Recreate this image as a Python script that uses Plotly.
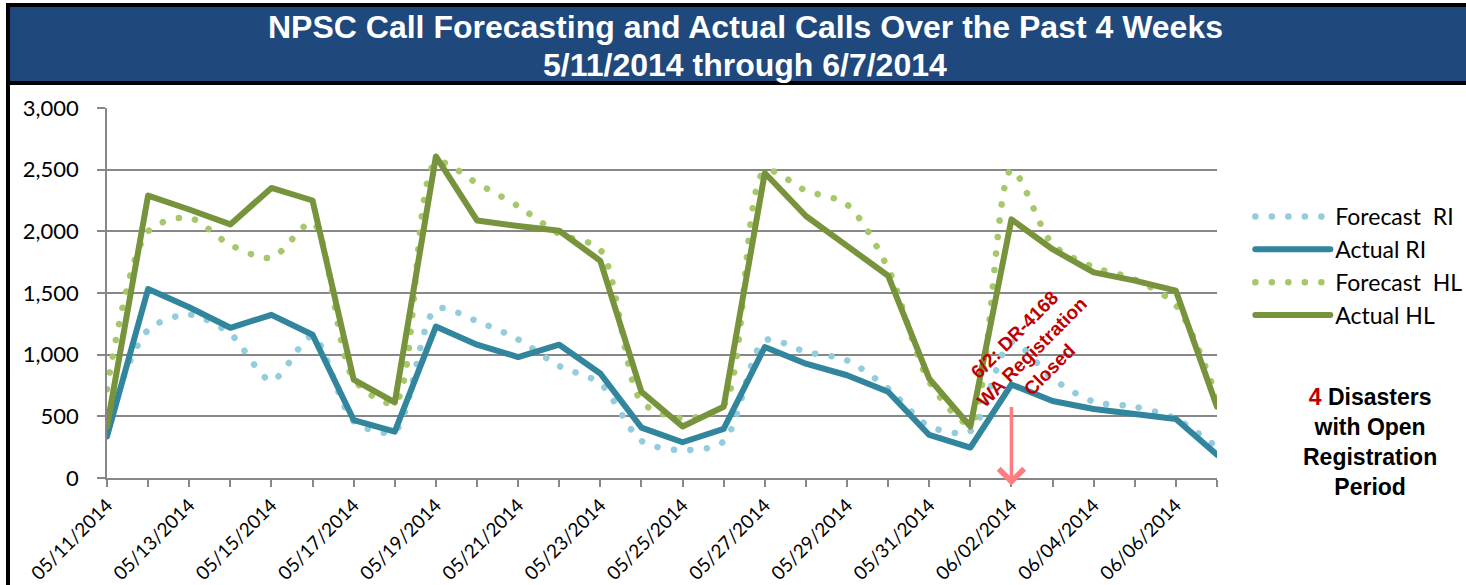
import plotly.graph_objects as go

dates = ["2014-05-11", "2014-05-12", "2014-05-13", "2014-05-14", "2014-05-15", "2014-05-16", "2014-05-17",
         "2014-05-18", "2014-05-19", "2014-05-20", "2014-05-21", "2014-05-22", "2014-05-23", "2014-05-24",
         "2014-05-25", "2014-05-26", "2014-05-27", "2014-05-28", "2014-05-29", "2014-05-30", "2014-05-31",
         "2014-06-01", "2014-06-02", "2014-06-03", "2014-06-04", "2014-06-05", "2014-06-06", "2014-06-07"]

forecast_ri = [450, 1200, 1325, 1169, 790, 1150, 460, 380, 1370, 1271, 1124, 908, 766, 301,
               226, 296, 1116, 1022, 954, 726, 420, 380, 1100, 806, 618, 578, 480, 250]
actual_ri = [337, 1532, 1384, 1218, 1323, 1161, 470, 376, 1228, 1081, 981, 1081, 847, 409,
             290, 398, 1062, 927, 833, 699, 349, 247, 758, 624, 559, 524, 478, 188]
forecast_hl = [720, 2000, 2110, 1890, 1785, 2070, 800, 610, 2560, 2390, 2204, 1980, 1850, 620,
               485, 590, 2490, 2330, 2218, 1700, 780, 440, 2500, 1895, 1710, 1610, 1400, 650]
actual_hl = [418, 2290, 2177, 2056, 2352, 2250, 798, 613, 2607, 2088, 2043, 2005, 1761, 699,
             417, 578, 2473, 2124, 1882, 1640, 806, 417, 2097, 1855, 1667, 1600, 1519, 578]

series_names = ["Forecast  RI", "Actual RI", "Forecast  HL", "Actual HL"]
title_lines = ["NPSC Call Forecasting and Actual Calls Over the Past 4 Weeks", "5/11/2014 through 6/7/2014"]
event_date = "2014-06-02"
event_label = "6/2: DR-4168<br>WA Registration<br>Closed"

C_FRI = "#93CDDD"
C_ARI = "#31859C"
C_FHL = "#A6C86A"
C_AHL = "#77933C"
DOT = "6px,10.5px"

fig = go.Figure()
fig.add_trace(go.Scatter(x=dates, y=forecast_ri, name=series_names[0], mode="lines",
                         line=dict(color=C_FRI, width=6.5, dash=DOT, shape="spline", smoothing=0.8)))
fig.add_trace(go.Scatter(x=dates, y=actual_ri, name=series_names[1], mode="lines",
                         line=dict(color=C_ARI, width=6)))
fig.add_trace(go.Scatter(x=dates, y=forecast_hl, name=series_names[2], mode="lines",
                         line=dict(color=C_FHL, width=6.5, dash=DOT, shape="spline", smoothing=0.8)))
fig.add_trace(go.Scatter(x=dates, y=actual_hl, name=series_names[3], mode="lines",
                         line=dict(color=C_AHL, width=6)))

GRID = "#878787"
fig.update_layout(
    width=1466, height=585,
    margin=dict(l=107, r=249, t=108, b=107, autoexpand=False),
    paper_bgcolor="white", plot_bgcolor="white",
    font=dict(family="Lato, Open Sans, sans-serif", color="black"),
    showlegend=True,
    legend=dict(x=1.03, xanchor="left", y=0.765, yanchor="top",
                font=dict(size=23, family="Lato, sans-serif", color="black"),
                itemwidth=75, tracegroupgap=0, bgcolor="rgba(0,0,0,0)"),
    xaxis=dict(type="date", range=[dates[0], dates[-1]], tick0=dates[0], dtick=2 * 86400000,
               tickformat="%m/%d/%Y", tickangle=-45, ticks="outside", ticklen=7, tickwidth=1.5,
               tickcolor=GRID, showline=True, linecolor=GRID, linewidth=1.5, showgrid=False,
               zeroline=False, tickfont=dict(size=19, family="Lato, sans-serif"),
               minor=dict(dtick=86400000, tick0=dates[0], ticks="outside", ticklen=7,
                          tickcolor=GRID, tickwidth=1.5, showgrid=False)),
    yaxis=dict(range=[0, 3000], dtick=500, tickformat=",", ticks="outside", ticklen=8,
               tickwidth=1.5, tickcolor=GRID, showline=True, linecolor=GRID, linewidth=1.5,
               showgrid=True, gridcolor=GRID, gridwidth=1.5, zeroline=False,
               tickfont=dict(size=22, family="Lato, sans-serif"), ticklabelstandoff=14),
)

# frame and title banner (paper coordinates)
fig.add_shape(type="rect", xref="paper", yref="paper", x0=-0.0910, x1=1.23, y0=1.0622, y1=1.2838,
              fillcolor="black", line_width=0, layer="above")
fig.add_shape(type="rect", xref="paper", yref="paper", x0=-0.0874, x1=1.23, y0=1.0730, y1=1.2730,
              fillcolor="#1F487C", line_width=0, layer="above")
fig.add_shape(type="rect", xref="paper", yref="paper", x0=-0.0910, x1=-0.0874, y0=-0.32, y1=1.07,
              fillcolor="black", line_width=0, layer="above")

# title lines
for txt, yy in zip(title_lines, [1.2189, 1.1162]):
    fig.add_annotation(x=0.5748, y=yy, xref="paper", yref="paper", xanchor="center", yanchor="middle",
                       text="<b>" + txt + "</b>", showarrow=False,
                       font=dict(family="Liberation Sans, Arial, sans-serif", size=32, color="white"))

# event annotation
fig.add_annotation(x="2014-06-02 12:00", y=1020, xref="x", yref="y", text="<b>" + event_label + "</b>",
                   showarrow=False, textangle=-45,
                   font=dict(family="Liberation Sans, Arial, sans-serif", size=19, color="#C00000"))
fig.add_annotation(x=event_date, y=-0.02, xref="x", yref="paper", ax=0, ay=-80, axref="pixel", ayref="pixel",
                   text="", showarrow=True, arrowhead=4, arrowsize=1.4, arrowwidth=3.5, arrowcolor="#FF7C80")

# side note
fig.add_annotation(x=1.138, y=0.097, xref="paper", yref="paper", xanchor="center", yanchor="middle",
                   text="<b><span style='color:#C00000'>4</span> Disasters<br>with Open<br>Registration<br>Period</b>",
                   showarrow=False, align="center",
                   font=dict(family="Liberation Sans, Arial, sans-serif", size=23, color="black"))

post = """
document.body.style.margin = '0';
document.body.style.padding = '0';
var gd = document.getElementById('{plot_id}');
gd.querySelectorAll('path').forEach(function(p){
  var da = p.style.strokeDasharray || '';
  if (da.indexOf('10.5') >= 0) {
    p.style.strokeDasharray = '0.1px,16.4px';
    p.style.strokeLinecap = 'round';
  } else if (p.classList.contains('js-line')) {
    p.style.strokeLinecap = 'round';
    p.style.strokeLinejoin = 'round';
  }
});
"""
fig.write_html("out.html", post_script=post, config={"displayModeBar": False, "staticPlot": False})
